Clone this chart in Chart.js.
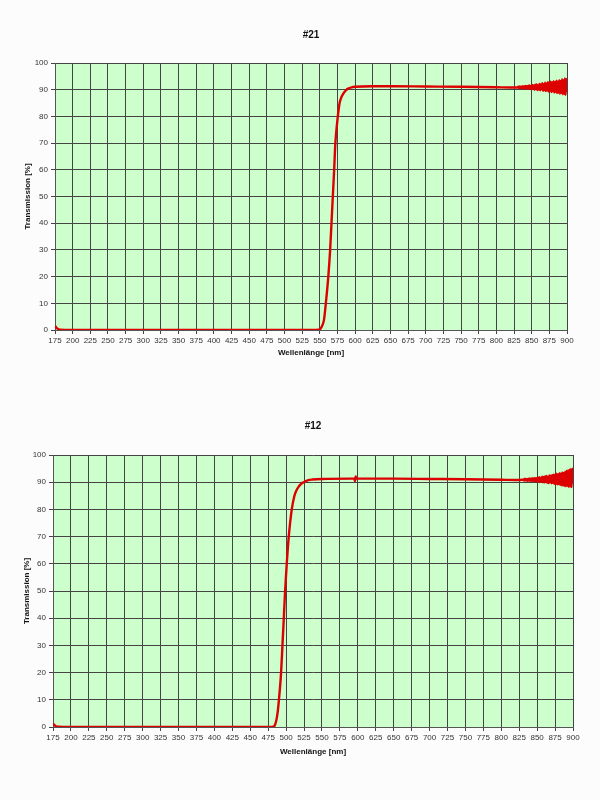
<!DOCTYPE html>
<html>
<head>
<meta charset="utf-8">
<script src="https://cdn.jsdelivr.net/npm/chart.js@4"></script>
<style>
  body { margin: 0; background: #fcfcfc; width: 600px; height: 800px; position: relative; overflow: hidden; }
  canvas { position: absolute; left: 0; }
</style>
</head>
<body>
<canvas id="chart21" width="600" height="380" style="top:0px"></canvas>
<canvas id="chart12" width="600" height="390" style="top:395px"></canvas>
<script>
// #21 - wavelength [nm] / transmission [%]
const wl21 = [175, 178, 182, 200, 250, 300, 350, 400, 450, 500, 540, 548, 551, 554, 556, 558.5, 562, 564.6, 566.5, 568.4, 570.3, 572, 575.5, 578, 580, 583, 587, 590, 595, 600, 625, 650, 700, 750, 800, 820,
  830, 831, 832, 833, 834, 835, 836, 837, 838, 839, 840, 841, 842, 843, 844, 845, 846, 847, 848, 849,
  850, 851, 852, 853, 854, 855, 856, 857, 858, 859, 860, 861, 862, 863, 864, 865, 866, 867, 868, 869,
  870, 871, 872, 873, 874, 875, 876, 877, 878, 879, 880, 881, 882, 883, 884, 885, 886, 887, 888, 889,
  890, 891, 892, 893, 894, 895, 896, 897, 898, 899, 900];
const tr21 = [1.5, 0.6, 0.1, 0, 0, 0, 0, 0, 0, 0, 0, 0.1, 0.5, 2, 4, 10, 20, 30, 40, 50, 60, 70, 80, 85, 86.8, 88.4, 89.8, 90.4, 90.9, 91.1, 91.3, 91.3, 91.2, 91.1, 90.9, 90.8,
  90.8, 91.1, 90.6, 91.2, 90.7, 91.0, 90.5, 91.3, 90.6, 91.2, 90.4, 91.4, 90.7, 91.3, 90.3, 91.5, 90.5, 91.6, 90.2, 91.4,
  90.3, 91.8, 90.4, 91.6, 90.0, 91.9, 90.3, 92.0, 89.9, 91.7, 90.1, 92.2, 89.8, 92.0, 90.2, 92.4, 89.6, 92.1, 89.9, 92.6,
  89.5, 92.3, 89.7, 92.8, 89.3, 92.5, 89.6, 93.0, 89.1, 92.7, 89.4, 93.2, 88.9, 92.9, 89.2, 93.4, 88.7, 93.1, 88.9, 93.6,
  88.5, 93.3, 88.7, 93.9, 88.3, 93.6, 88.4, 94.2, 88.1, 94.0, 89.0];

// #12
const wl12 = [175, 178, 182, 200, 250, 300, 350, 400, 450, 478, 482, 484, 486, 488, 490, 493, 494.9, 496.8, 498.6, 500.9, 503.7, 507.9, 511.6, 514, 517.6, 521, 524.5, 530, 537, 550, 590, 595, 596, 597, 598, 600, 650, 700, 750, 800, 820,
  830, 831, 832, 833, 834, 835, 836, 837, 838, 839, 840, 841, 842, 843, 844, 845, 846, 847, 848, 849,
  850, 851, 852, 853, 854, 855, 856, 857, 858, 859, 860, 861, 862, 863, 864, 865, 866, 867, 868, 869,
  870, 871, 872, 873, 874, 875, 876, 877, 878, 879, 880, 881, 882, 883, 884, 885, 886, 887, 888, 889,
  890, 891, 892, 893, 894, 895, 896, 897, 898, 899, 900];
const tr12 = [1.2, 0.5, 0.1, 0, 0, 0, 0, 0, 0, 0, 0.1, 0.5, 2, 5, 10, 20, 30, 40, 50, 60, 70, 80, 85, 86.8, 88.4, 89.4, 90, 90.7, 91.0, 91.2, 91.3, 91.3, 90.4, 92.1, 91.3, 91.3, 91.3, 91.2, 91.1, 90.9, 90.8,
  90.9, 91.0, 90.6, 91.3, 90.7, 91.1, 90.5, 91.2, 90.6, 91.4, 90.5, 91.3, 90.4, 91.5, 90.6, 91.4, 90.3, 91.6, 90.4, 91.5,
  90.2, 91.7, 90.5, 91.8, 90.1, 91.6, 90.2, 92.0, 90.0, 91.9, 89.9, 92.1, 90.2, 92.3, 89.8, 92.0, 89.7, 92.5, 90.0, 92.4,
  89.6, 92.6, 89.8, 92.8, 89.4, 92.7, 89.5, 93.1, 89.2, 92.9, 89.3, 93.3, 89.0, 93.2, 88.9, 93.6, 88.8, 93.4, 88.7, 93.9,
  88.5, 94.1, 88.6, 94.3, 88.3, 94.6, 88.4, 94.9, 88.2, 95.0, 89.5];

const xTicks = { min: 175, max: 900, step: 25 };
const yTicks = { min: 0, max: 100, step: 10 };

const greenBg = {
  id: 'greenBg',
  beforeDraw(chart) {
    const a = chart.chartArea, ctx = chart.ctx;
    ctx.save();
    ctx.fillStyle = '#ccffcc';
    ctx.fillRect(a.left, a.top, a.right - a.left, a.bottom - a.top);
    ctx.restore();
  }
};

function makeChart(id, title, wl, tr, yWidth, xHeight, pad) {
  return new Chart(document.getElementById(id), {
    type: 'line',
    data: {
      datasets: [{
        data: wl.map((x, i) => ({ x: x, y: tr[i] })),
        borderColor: '#dd0000',
        borderWidth: 2.4,
        pointRadius: 0,
        cubicInterpolationMode: 'monotone'
      }]
    },
    options: {
      responsive: false,
      animation: false,
      layout: { padding: pad.layout },
      plugins: {
        legend: { display: false },
        tooltip: { enabled: false },
        title: {
          display: true,
          fullSize: false,
          text: title,
          color: '#111',
          font: { family: 'Liberation Sans', size: 10, weight: 'bold', lineHeight: 1.2 },
          padding: pad.title
        }
      },
      scales: {
        x: {
          type: 'linear',
          min: xTicks.min, max: xTicks.max,
          ticks: { stepSize: xTicks.step, autoSkip: false, maxRotation: 0, color: '#333', font: { family: 'Liberation Sans', size: 8 }, padding: 2 },
          grid: { color: '#444', lineWidth: 1, tickLength: 4 },
          border: { color: '#555' },
          title: { display: true, text: 'Wellenlänge [nm]', color: '#111', font: { family: 'Liberation Sans', size: 8, weight: 'bold' }, padding: 0 },
          afterFit(s) { s.height = xHeight; }
        },
        y: {
          min: yTicks.min, max: yTicks.max,
          ticks: { stepSize: yTicks.step, color: '#333', font: { family: 'Liberation Sans', size: 8 }, padding: 3 },
          grid: { color: '#444', lineWidth: 1, tickLength: 4 },
          border: { color: '#555' },
          title: { display: true, text: 'Transmission [%]', color: '#111', font: { family: 'Liberation Sans', size: 8, weight: 'bold' }, padding: 0 },
          afterFit(s) { s.width = yWidth; }
        }
      }
    },
    plugins: [greenBg]
  });
}

makeChart('chart21', '#21', wl21, tr21, 32, 28, { layout: { left: 23, right: 33, top: 0, bottom: 22 }, title: { top: 29, bottom: 22 } });
makeChart('chart12', '#12', wl12, tr12, 31, 30, { layout: { left: 22, right: 27, top: 0, bottom: 28 }, title: { top: 25, bottom: 23 } });
</script>
</body>
</html>
